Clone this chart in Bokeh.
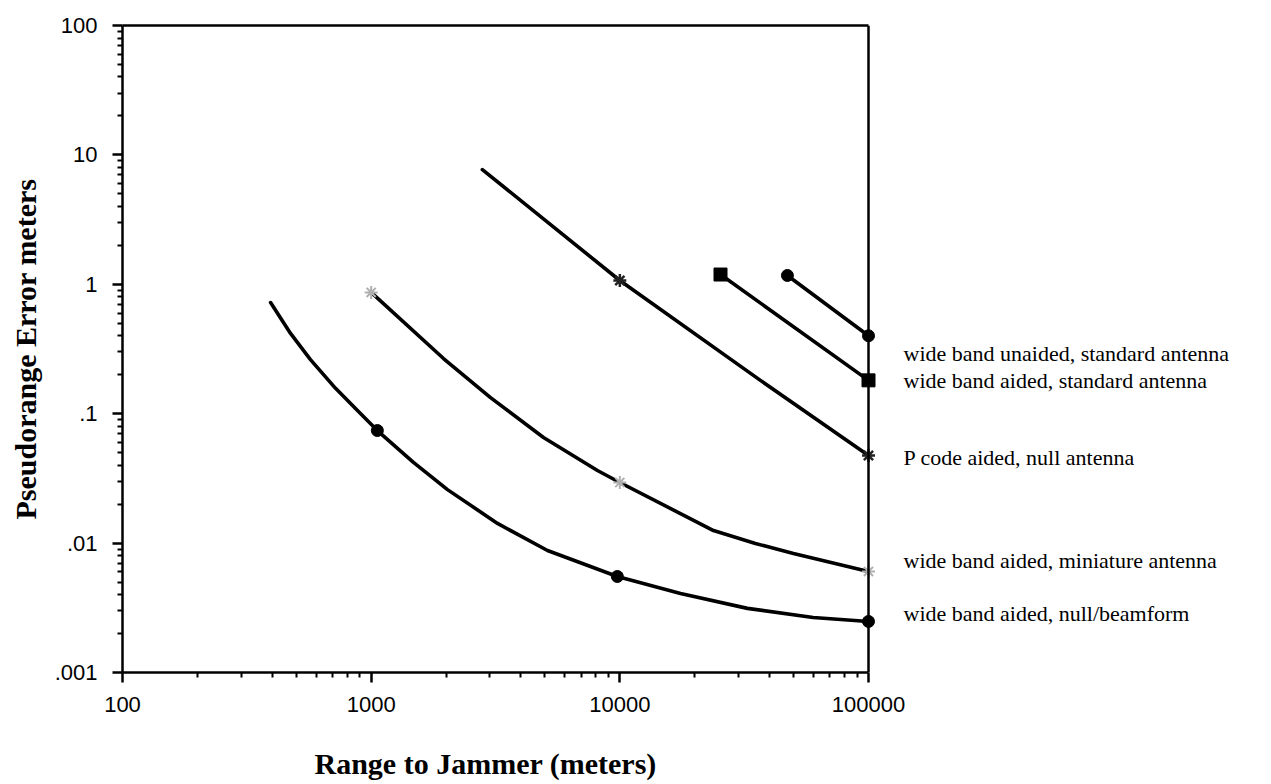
from bokeh.plotting import figure
from bokeh.models import FixedTicker, Label, LogAxis, Span, Title
from bokeh.embed import file_html
from bokeh.resources import INLINE

# --- data ---
# wide band unaided, standard antenna
s1_x = [47200, 100000]
s1_y = [1.17, 0.40]
s1_mx = [47200, 100000]
s1_my = [1.17, 0.40]

# wide band aided, standard antenna
s2_x = [25400, 100000]
s2_y = [1.19, 0.181]
s2_mx = [25400, 100000]
s2_my = [1.19, 0.181]

# P code aided, null antenna
s3_x = [2800, 10000, 36760, 100000]
s3_y = [7.7, 1.07, 0.181, 0.0475]
s3_mx = [10000, 100000]
s3_my = [1.07, 0.0475]

# wide band aided, miniature antenna
s4_x = [1000, 1954, 3020, 4932, 8128, 10000, 23800, 35100, 49900, 100000]
s4_y = [0.865, 0.267, 0.133, 0.0655, 0.0364, 0.0294, 0.0125, 0.00993, 0.00831, 0.00604]
s4_mx = [1000, 10000, 100000]
s4_my = [0.865, 0.0294, 0.00604]

# wide band aided, null/beamform
s5_x = [394, 474, 570, 719, 881, 1059, 1479, 2027, 3221, 5117, 9772,
        17540, 32600, 59900, 100000]
s5_y = [0.723, 0.417, 0.262, 0.157, 0.106, 0.0741, 0.0420, 0.0259, 0.0142, 0.00877,
        0.00552, 0.00408, 0.00313, 0.00266, 0.00248]
s5_mx = [1059, 9772, 100000]
s5_my = [0.0741, 0.00552, 0.00248]

series_labels = [
    "wide band unaided, standard antenna",
    "wide band aided, standard antenna",
    "P code aided, null antenna",
    "wide band aided, miniature antenna",
    "wide band aided, null/beamform",
]
label_y = [0.292, 0.181, 0.0459, 0.00734, 0.00286]

x_ticks = [100, 1000, 10000, 100000]
x_tick_labels = ["100", "1000", "10000", "100000"]
y_ticks = [0.001, 0.01, 0.1, 1, 10, 100]
y_tick_labels = [".001", ".01", ".1", "1", "10", "100"]

# --- layout: box spans 746 px for 3 decades, frame continues right for labels ---
box_w, frame_w, frame_h = 746, 1149, 647
x_end = x_ticks[0] * 10 ** (3 * frame_w / box_w)

p = figure(x_axis_type="log", y_axis_type="log",
           x_range=(x_ticks[0], x_end), y_range=(y_ticks[0], y_ticks[-1]),
           frame_width=frame_w, frame_height=frame_h,
           min_border_left=122, min_border_top=25,
           min_border_right=0, min_border_bottom=112,
           output_backend="svg", toolbar_location=None,
           background_fill_color="white", border_fill_color="white")

p.xgrid.visible = False
p.ygrid.visible = False
p.outline_line_color = None

def minor_for(ticks):
    out = []
    for t in ticks[:-1]:
        for k in range(2, 10):
            out.append(t * k)
    return out

p.xaxis.ticker = FixedTicker(ticks=x_ticks, minor_ticks=minor_for(x_ticks))
p.yaxis.ticker = FixedTicker(ticks=y_ticks, minor_ticks=minor_for(y_ticks))
p.xaxis.major_label_overrides = dict(zip(x_ticks, x_tick_labels))
p.yaxis.major_label_overrides = dict(zip(y_ticks, y_tick_labels))
p.xaxis.bounds = (x_ticks[0], x_ticks[-1])

for ax in (p.xaxis, p.yaxis):
    ax.axis_line_width = 2.5
    ax.axis_line_color = "black"
    ax.major_tick_line_width = 2.5
    ax.minor_tick_line_width = 2
    ax.major_tick_out = 10
    ax.major_tick_in = 0
    ax.minor_tick_out = 5
    ax.minor_tick_in = 0
    ax.major_label_text_font = "Liberation Sans"
    ax.major_label_text_font_size = "22px"
    ax.major_label_text_color = "black"
    ax.axis_label_text_font = "Liberation Serif"
    ax.axis_label_text_font_style = "bold"
    ax.axis_label_text_font_size = "30px"
    ax.axis_label_text_color = "black"

p.yaxis.axis_label = "Pseudorange Error meters"
p.xaxis.major_label_standoff = 14
p.yaxis.major_label_standoff = 15
p.yaxis.axis_label_standoff = 10

# x-axis title, centred under the box rather than the whole frame
p.add_layout(Title(text="Range to Jammer (meters)", align="left", offset=192,
                   standoff=60, text_font="Liberation Serif", text_font_size="30px",
                   text_font_style="bold", text_color="black"), "below")

# top border of the box
top = LogAxis(bounds=(x_ticks[0], x_ticks[-1]), ticker=FixedTicker(ticks=[]),
              axis_line_width=2.5, axis_line_color="black",
              major_tick_out=0, major_tick_in=0, minor_tick_out=0, minor_tick_in=0,
              major_label_text_font_size="0px")
p.add_layout(top, "above")
# right border of the box
p.add_layout(Span(location=x_ticks[-1], dimension="height",
                  line_color="black", line_width=2.5))

lw = 3.6
for xs, ys in ((s1_x, s1_y), (s2_x, s2_y), (s3_x, s3_y), (s4_x, s4_y), (s5_x, s5_y)):
    p.line(xs, ys, line_color="black", line_width=lw, line_join="round", line_cap="round")

p.scatter(s1_mx, s1_my, marker="circle", size=12, fill_color="black", line_color="black")
p.scatter(s2_mx, s2_my, marker="square", size=13, fill_color="black", line_color="black")
p.scatter(s3_mx, s3_my, marker="asterisk", size=13, line_color="#222222", line_width=2.5)
p.scatter(s4_mx, s4_my, marker="asterisk", size=13, line_color="#b0b0b0", line_width=2)
p.scatter(s5_mx, s5_my, marker="circle", size=12, fill_color="black", line_color="black")

for txt, yy in zip(series_labels, label_y):
    p.add_layout(Label(x=x_ticks[-1], y=yy, x_offset=35, text=txt,
                       text_baseline="middle", text_align="left",
                       text_font="Liberation Serif", text_font_size="22px",
                       text_color="black"))

open("out.html", "w").write(file_html(p, INLINE))
